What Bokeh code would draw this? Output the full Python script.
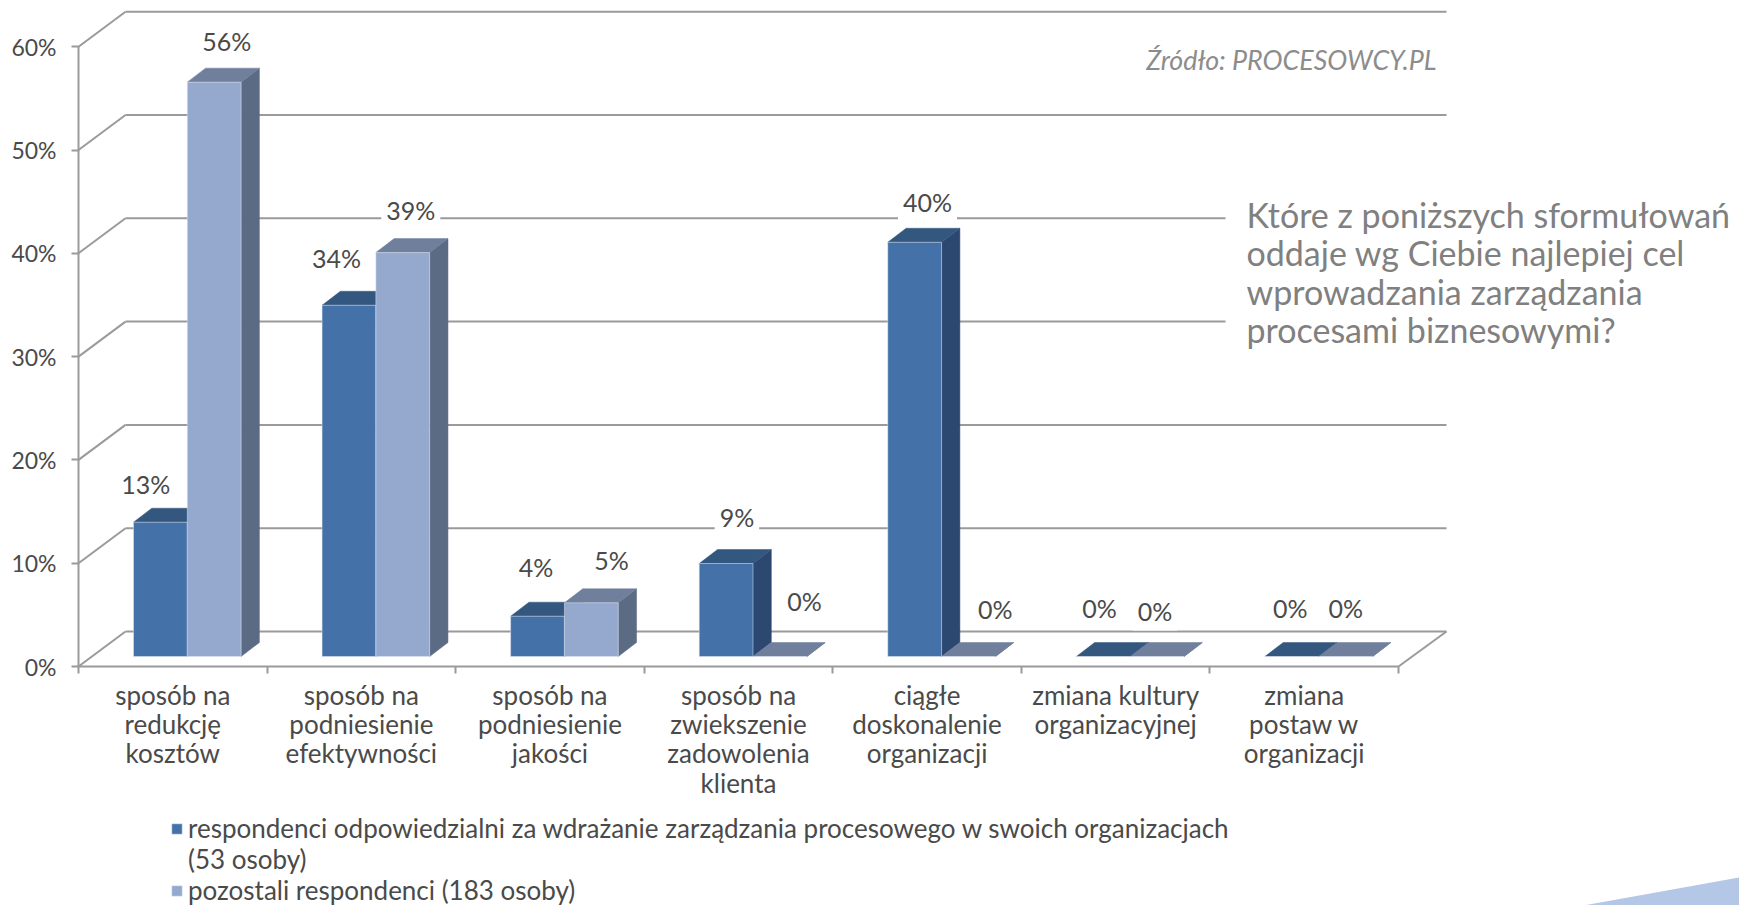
from bokeh.plotting import figure
from bokeh.models import Range1d, LinearAxis, FixedTicker, Legend, LegendItem
from bokeh.core.properties import value
from bokeh.embed import file_html
from bokeh.resources import INLINE

categories = ["sposób na\nredukcję\nkosztów", "sposób na\npodniesienie\nefektywności",
              "sposób na\npodniesienie\njakości", "sposób na\nzwiekszenie\nzadowolenia\nklienta",
              "ciągłe\ndoskonalenie\norganizacji", "zmiana kultury\norganizacyjnej",
              "zmiana\npostaw w\norganizacji"]
series_a = [13, 34, 3.9, 9, 40.1, 0, 0]
series_b = [55.6, 39.1, 5.2, 0, 0, 0, 0]
series_a_name = "respondenci odpowiedzialni za wdrażanie zarządzania procesowego w swoich organizacjach"
series_a_note = "(53 osoby)"
series_b_name = "pozostali respondenci (183 osoby)"
y_ticks = [0, 10, 20, 30, 40, 50, 60]

FONT = "Lato"
W, H = 1739, 905
X0, Y0 = 78, 666          # canvas position of the chart origin
PX_X, PX_Y = 188.57, 10.33  # pixels per category / per percent
DEPTH_X, DEPTH_Y = 47 / PX_X, 35 / PX_Y
BAR_L, BAR_W = 55 / PX_X, 53.8 / PX_X
BAR_DX, BAR_DY = 18.3 / PX_X, 14 / PX_Y
BASE = 10 / PX_Y
BACK_END = (1446 - X0) / PX_X
N = len(categories)
GRID = "#9a9a9a"
TXT = "#4a4a4a"
COL_A = ("#4472a8", "#34577f", "#2c4770")
COL_B = ("#95a9cf", "#6f7f9c", "#5c6b84")

p = figure(width=W, height=H, output_backend="svg", toolbar_location=None,
           x_range=Range1d(-X0 / PX_X, (W - X0) / PX_X),
           y_range=Range1d(-(H - Y0) / PX_Y, Y0 / PX_Y),
           x_axis_type=None, y_axis_type=None,
           min_border=0, min_border_left=0, min_border_right=0, min_border_top=0, min_border_bottom=0)
p.outline_line_color = None
p.grid.visible = False

# walls and floor
gx0 = [0] * len(y_ticks); gx1 = [DEPTH_X] * len(y_ticks)
gy1 = [t + DEPTH_Y for t in y_ticks]
p.segment(gx0, y_ticks, gx1, gy1, line_color=GRID, line_width=2)
p.segment(gx1, gy1, [BACK_END] * len(y_ticks), gy1, line_color=GRID, line_width=2)
p.segment([N], [0], [BACK_END], [DEPTH_Y], line_color=GRID, line_width=2)

# axes
yax = LinearAxis(fixed_location=0, ticker=FixedTicker(ticks=y_ticks),
                 major_label_overrides={t: f"{t}%" for t in y_ticks},
                 bounds=(0, 60), major_tick_in=0, major_tick_out=7, minor_tick_out=0, minor_tick_in=0,
                 axis_line_color=GRID, axis_line_width=2, major_tick_line_color=GRID, major_tick_line_width=2,
                 major_label_text_font=FONT, major_label_text_font_size="23px", major_label_text_color=TXT,
                 major_label_standoff=15)
p.add_layout(yax, "left")
centers = [i + 0.5 for i in range(N)]
xax = LinearAxis(fixed_location=0, ticker=FixedTicker(ticks=centers, minor_ticks=list(range(N + 1))),
                 major_label_overrides={c: l for c, l in zip(centers, categories)},
                 bounds=(0, N), major_tick_in=0, major_tick_out=0, minor_tick_in=0, minor_tick_out=7,
                 axis_line_color=GRID, axis_line_width=2, minor_tick_line_color=GRID, minor_tick_line_width=2,
                 major_label_text_font=FONT, major_label_text_font_size="26px", major_label_text_color=TXT,
                 major_label_standoff=5, major_label_text_line_height=0.92)
p.add_layout(xax, "below")

# source / title
p.text([(1246 - 21 - X0) / PX_X], [(Y0 - 193 + 21) / PX_Y],
       text=["Które z poniższych sformułowań\noddaje wg Ciebie najlepiej cel\nwprowadzania zarządzania\nprocesami biznesowymi?"],
       text_font=value(FONT), text_font_size="34px", text_color="#808080", text_baseline="top", text_line_height=0.94,
       background_fill_color="white", padding=21)
p.text([(1436 - X0) / PX_X], [(Y0 - 59) / PX_Y], text=["Źródło: PROCESOWCY.PL"], text_font=value(FONT),
       text_font_size="26.8px", text_font_style="italic", text_color="#8c8c8c", text_align="right", text_baseline="middle")

# bars
def bars(vals, offset, cols):
    x0 = [i + BAR_L + offset * BAR_W for i in range(N)]
    x1 = [x + BAR_W for x in x0]
    top = [v + BASE for v in vals]
    bottom = [BASE] * N
    side_x = [[a, a + BAR_DX, a + BAR_DX, a] for a in x1]
    side_y = [[b, b + BAR_DY, t + BAR_DY, t] for b, t in zip(bottom, top)]
    p.patches(side_x, side_y, fill_color=cols[2], line_color=cols[2], line_width=0.5)
    top_x = [[a, a + BAR_DX, b + BAR_DX, b] for a, b in zip(x0, x1)]
    top_y = [[t, t + BAR_DY, t + BAR_DY, t] for t in top]
    p.patches(top_x, top_y, fill_color=cols[1], line_color=cols[1], line_width=0.5)
    return p.quad(left=x0, right=x1, bottom=bottom, top=top, fill_color=cols[0], line_color="#dfe6f0", line_width=0.5), x0, top

ra, xa, ta = bars(series_a, 0, COL_A)
rb, xb, tb = bars(series_b, 1, COL_B)
blank = p.quad(left=[], right=[], bottom=[], top=[], fill_alpha=0, line_alpha=0)

# data labels, nudged off the bars as in the original
off_a = [(-14.6, -38.2), (-12.5, -47.5), (-1.4, -49), (10.8, -46.2), (12.8, -40), (-3.8, -48.3), (-1.5, -48.3)]
off_b = [(12.5, -40.7), (8, -42.3), (20.2, -42.3), (24.6, -56), (26.8, -47.2), (-2.1, -46), (0.1, -48.3)]
for vals, xs, tops, offs in ((series_a, xa, ta, off_a), (series_b, xb, tb, off_b)):
    for v, x, t, o in zip(vals, xs, tops, offs):
        p.text([x + BAR_W / 2], [t], text=[f"{round(v)}%"], x_offset=o[0], y_offset=o[1], text_align="center",
               text_baseline="middle", text_font=value(FONT), text_font_size="25px", text_color=TXT,
               background_fill_color="white", padding=5)

# decorative corner
p.patch([(1583 - X0) / PX_X, (W - X0) / PX_X, (W - X0) / PX_X], [(Y0 - H) / PX_Y, (Y0 - 877) / PX_Y, (Y0 - H) / PX_Y],
        fill_color="#b4c7e7", line_color=None)

# one legend per row, so the row pitch of the original can be kept
for label, rend, bottom in ((series_a_name, ra, 61), (series_a_note, blank, 30), (series_b_name, rb, -1)):
    p.add_layout(Legend(items=[LegendItem(label=label, renderers=[rend])],
                        location=(170, bottom), border_line_color=None, background_fill_alpha=0,
                        glyph_width=13, glyph_height=13, label_standoff=5, spacing=0, padding=0, margin=0,
                        label_height=30, label_text_font=FONT, label_text_font_size="26px",
                        label_text_color=TXT), "center")

open("out.html", "w").write(file_html(p, INLINE))
